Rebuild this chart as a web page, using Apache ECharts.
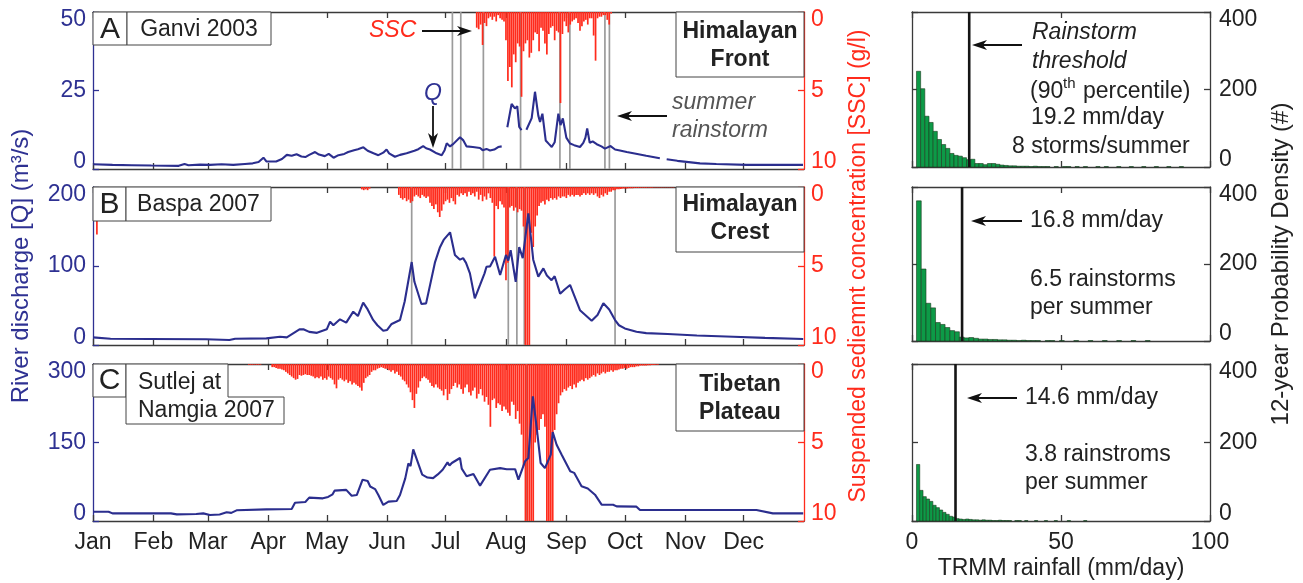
<!DOCTYPE html>
<html><head><meta charset="utf-8">
<script src="https://cdn.jsdelivr.net/npm/echarts@6/dist/echarts.min.js"></script>
<style>html,body{margin:0;padding:0;background:#fff}#c{width:1303px;height:583px}</style>
</head><body><div id="c"></div>
<script>
// ---------------- DATA ----------------
const months = ['Jan','Feb','Mar','Apr','May','Jun','Jul','Aug','Sep','Oct','Nov','Dec'];
const monthStartDays = [0,31,59,90,120,151,181,212,243,273,304,334];

// River discharge Q [day-of-year, m3/s]
const qA = [[0,1.5],[10,1.3],[20,1.2],[30,1.1],[44,1.0],[47,1.6],[49,1.2],[55,1.4],[60,1.3],[66,1.5],[72,1.3],[78,1.6],[82,1.8],[85,2.2],[87.5,3.6],[89,2.4],[94,2.4],[97,3.2],[99.5,4.5],[102,4.2],[104.5,4.7],[107,4.0],[109,3.8],[111,4.5],[114,5.4],[116,4.6],[119,4.1],[121,4.8],[123.5,3.6],[126,4.4],[129,4.8],[131,5.4],[134,6.0],[136,6.3],[138.8,6.9],[141,5.8],[144,5.0],[146.5,4.4],[149,5.2],[150.7,6.2],[152,5.0],[155,3.9],[157.6,4.5],[161,5.0],[163,5.4],[165,5.8],[167,6.3],[169.5,7.3],[171,6.6],[173,6.2],[176.4,5.0],[179,4.4],[180.5,6.0],[181.6,8.2],[183.3,7.2],[185,8.0],[188.4,10.1],[190,9.2],[191.8,7.2],[195,7.0],[198.7,6.7],[200,6.0],[202,6.4],[203.8,5.9],[206,6.2],[208,7.0],[209.8,7.2],[210.5,null],[212.7,13.3],[214.9,20.7],[216.6,19.3],[217.8,20.0],[218.8,13.4],[220,12.4],[220.7,null],[222.5,12.5],[223.4,11.9],[225.2,16.2],[226.9,24.6],[228.6,17.0],[229.5,15.0],[230.7,17.6],[232.4,9.1],[234,8.0],[235.5,7.0],[237,8.5],[238.9,17.6],[240,14.0],[241.2,16.1],[243,10.0],[244.9,8.1],[247,7.6],[250,7.0],[251.7,8.3],[252.8,10.0],[253.7,12.9],[255,8.3],[256.5,8.8],[258.6,7.9],[261,7.2],[262.8,6.5],[265.7,7.3],[268,6.2],[270.5,5.9],[274,5.4],[277.4,5.0],[284,4.2],[291,3.4],[292.5,null],[294.5,3.1],[300,2.6],[311.6,1.8],[320,1.6],[335.6,1.3],[350,1.3],[364.5,1.3]];
const qB = [[0,9.7],[9,8],[29,7.6],[58,7.2],[59,9],[70,6.3],[73,8],[89,8.4],[96,10.5],[99.5,9.7],[106,19.8],[108,20],[111,16.6],[115,15.4],[120,19.8],[121.7,29.5],[123.4,24.9],[126.8,32.5],[130,28.3],[133.6,42.2],[136,36.7],[138.7,53.6],[141,45],[143.8,31.7],[146,25],[149,18.1],[151,19],[153.3,26.6],[157.6,31.6],[160,55],[163.6,105],[165,80],[168.6,51.9],[171,52.7],[175.6,105],[178,123],[180,133],[183.3,142.6],[185.8,114],[188.4,108],[190,110],[191.5,104],[193.5,90.7],[196,59],[198.7,76],[201,90.7],[202,99],[203.8,99.5],[206.4,111.8],[209,88.6],[212,114],[213.2,107],[214.4,120],[217,80],[218.8,124],[220.6,110],[223.5,166.7],[226,108],[228.6,86.5],[231.2,97],[233,88],[235.4,82],[237,87],[239.8,65],[242,70],[244.9,76],[250,44],[256,30.8],[259,38],[262,52.8],[265,45],[268,31.6],[270,25],[273,21],[279,16.8],[284,15],[295,14],[310,12],[328.7,10.5],[345,9],[364.6,7.6]];
const qC = [[0,17.8],[8,17.8],[10,14.6],[40,14.6],[43,12.7],[53,13.5],[56.6,14.6],[60,11.5],[65,12.5],[68.6,16.6],[71,15.5],[73.7,20.4],[89,22.3],[102,22.9],[103.7,35],[109,36.3],[111,44.6],[118,43.3],[120.7,46],[123,51],[124,58],[130,59.5],[132.8,48.4],[135.4,49.6],[138.4,79],[141,76.4],[142.3,66],[144.8,61],[146.5,49.6],[149,30.6],[151.7,37],[155.9,38.2],[157.6,49.6],[160.3,81.5],[161.9,110],[163,105],[164.4,137],[169,88.5],[171.7,83],[174.6,82],[177,89],[179.5,98],[182,112],[183,106],[184.2,110.8],[188.4,120.4],[189.3,100],[191.8,85.4],[195.3,90],[198.7,67.5],[203.8,98],[209,101],[212.4,99],[216.7,99],[218.4,79],[221.8,114],[223.5,120.4],[225.8,238],[227.8,177.7],[229.8,110.8],[232,101],[235,126.7],[236,170],[238,145.8],[240.6,126.7],[245,95],[247,92],[250.8,66.3],[254,62],[257.7,50.3],[261.1,31.2],[267,31],[268.8,28],[279,27.4],[280.8,21],[340.6,21],[349,14.6],[364.6,14.6]];

// Suspended sediment concentration (g/l): first day + daily values
const sscAStart = 197;
const sscA = [1.0,1.1,0.8,2.1,0.7,0.9,0.4,0.3,0.5,0.3,0.6,0.2,0.4,0.5,0.6,1.8,4.4,3.5,4.8,2.7,3.2,2.0,2.2,5.4,2.5,2.0,1.8,2.9,2.6,1.8,1.3,1.4,2.5,1.0,1.2,2.0,2.7,1.4,1.0,0.9,1.8,1.2,1.3,5.8,1.4,0.6,0.9,1.3,0.8,0.6,0.5,0.4,0.7,1.2,0.9,0.6,0.5,0.8,0.4,0.4,1.5,3.1,0.4,0.3,0.3,0.2,0.2,0.5,0.8,0.1];
const sscBExtra = [[2,3.0],[138,0.15],[139,0.2],[140,0.15],[141,0.2],[142,0.1]];
const sscBStart = 157;
const sscB = [0.5,0.7,0.8,0.7,0.9,0.8,1.0,0.9,0.6,0.5,0.6,0.7,0.5,0.6,0.7,0.6,
  1.0,1.2,1.4,1.1,1.6,1.9,1.5,1.1,0.9,0.8,1.0,0.7,0.9,1.1,0.5,0.6,
  0.4,0.5,0.4,0.6,0.3,0.5,0.4,0.6,0.3,0.8,0.5,0.9,0.6,0.8,0.4,0.7,
  1.0,4.4,1.2,1.4,0.9,1.1,1.3,5.9,4.8,1.3,1.2,1.5,1.3,1.6,1.4,1.5,
  2.5,10,10,10,2.9,3.8,2.5,1.8,1.2,1.0,0.9,1.1,0.8,0.9,0.7,0.8,
  0.7,0.8,0.6,0.7,0.6,0.6,0.7,0.5,0.6,0.5,0.6,0.5,0.5,0.6,0.5,0.4,
  0.5,0.4,0.5,0.4,0.5,0.4,0.6,0.7,0.5,0.6,0.4,0.5,0.3,0.3,0.2,0.2,
  0.15,0.15,0.12,0.1,0.1,0.1,0.08,0.08,0.08,0.06,0.06,0.06,0.05,0.05,0.05,0.05,
  0.04,0.04,0.04,0.03,0.03,0.03,0.03,0.03,0.02,0.02,0.02,0.02,0.02,0.02];
const sscCExtra = [[80,0.05],[81,0.05],[82,0.05],[83,0.04],[84,0.05],[85,0.05],[86,0.04]];
const sscCStart = 92;
const sscC = [0.2,0.2,0.25,0.3,0.3,0.35,0.4,0.5,
  0.6,0.7,0.8,0.9,1.0,0.95,0.7,0.75,0.7,0.65,0.7,0.7,0.75,0.8,0.9,0.85,
  0.9,0.8,1.0,0.9,1.0,0.8,0.9,1.0,1.3,1.55,1.0,0.9,1.0,1.1,1.0,1.2,
  1.1,1.3,1.2,1.3,1.4,1.5,1.7,1.2,0.9,0.8,0.7,0.5,0.4,0.4,0.3,0.25,
  0.2,0.25,0.3,0.3,0.4,0.5,0.4,0.6,0.5,0.7,0.8,1.0,1.1,1.3,1.5,1.8,
  2.3,2.8,1.9,1.5,1.1,0.9,0.8,0.9,1.0,1.2,1.4,1.5,1.3,1.5,1.6,1.7,
  2.0,1.6,2.3,1.9,1.6,1.4,1.2,1.5,1.3,1.6,1.9,1.5,1.3,1.8,2.0,1.7,
  1.5,2.2,1.9,1.6,2.0,2.4,2.1,2.6,4.0,2.3,2.2,2.8,2.5,2.6,3.0,2.7,
  2.9,3.1,3.3,2.4,2.6,3.5,3.0,3.8,4.5,6.5,10,10,10,10,10,5.0,
  4.5,4.2,3.5,3.2,4.0,10,10,10,10,4.2,3.2,2.5,2.0,1.8,1.6,1.7,
  1.5,1.4,1.6,1.3,1.5,1.2,1.1,1.0,1.1,0.9,1.0,0.9,0.8,0.7,0.8,0.6,
  0.7,0.6,0.5,0.6,0.5,0.5,0.4,0.5,0.4,0.4,0.35,0.3,0.3,0.25,0.3,0.25,
  0.2,0.2,0.2,0.15,0.15,0.1,0.1,0.1,0.1,0.08,0.08,0.06,0.06,0.05,0.05];

// Summer rainstorm days (day of year)
const stormsA = [184.5,188.8,200.4,219.5,239.7,244.8,262.8,265.1];
const stormsB = [163.6,213.2,217.6,221.4,268];
const stormsC = [222.5];

// Axis maxima
const qMax = [50, 200, 300];

// TRMM rainfall histograms: first bin edge, bin width, counts
const histStart = [1.5, 1.5, 1.5];
const histWidth = [1.4, 1.6, 1.1];
const histA = [247,202,131,115,92,71,58,48,35,30,28,24,19,20,9,9,6,9,9,7,5,4,3,3,2,2,2,1,2,1,1,1,0,1,0,1,1,0,1,0,1,0,0,1,0,1,0,0,1,0,0,1,0,0,1,0,0,1,0,0,1,0,0,1,0,0,0,0,0,0];
const histB = [364,187,98,86,48,43,35,27,24,10,8,9,7,5,5,4,4,3,3,2,2,1,2,1,1,1,0,1,1,0,1,0,0,1,0,0,1,0,0,1,0,0,1,0,0,1,0,0,1,0,0,0,0,0,0,0,0,0,0,0,0];
const histC = [144,78,62,56,50,40,34,28,22,17,12,10,6,5,4,5,4,3,3,2,3,2,2,1,1,2,1,1,1,0,1,1,0,1,0,0,1,0,0,1,0,0,1,0,0,0,1,0,0,0,0,1,0,0,0,0,0,0,0,0,0,0,0,0,0,0,0,0,0,0,0,0,0,0,0,0,0,0,0,0,0,0,0,0,0,0,0,0];
const thresholds = [19.2, 16.8, 14.6];

// ---------------- STYLE ----------------
const FONT = '"Liberation Sans", Arial, Helvetica, sans-serif';
const BLUE = '#2e3192', QBLUE = '#2b2e8e', RED = '#ff2b1c', GRAY = '#9b9b9b', DARK = '#3a3a3a', TXT = '#222';
const GREEN = '#0d9a47';

function pairs(start, vals){ return vals.map((v,k)=>[start+k, v]); }
const qs = [qA, qB, qC];
const sscs = [pairs(sscAStart, sscA), sscBExtra.concat(pairs(sscBStart, sscB)), sscCExtra.concat(pairs(sscCStart, sscC))];
const storms = [stormsA, stormsB, stormsC];
const hists = [histA, histB, histC];

function edgeLabels(topVal, bottomVal, color){
  const base = {color: color, fontSize: 23, fontFamily: FONT};
  return {
    formatter: v => v === topVal ? '{t|'+v+'}' : (v === bottomVal ? '{b|'+v+'}' : '{m|'+v+'}'),
    rich: { t: Object.assign({padding:[16,0,0,0]}, base), b: Object.assign({padding:[0,0,14,0]}, base), m: Object.assign({}, base) }
  };
}

const grid = [
  {left:93, top:12, width:711, height:157},
  {left:93, top:187, width:711, height:158},
  {left:93, top:364, width:711, height:157},
  {left:912, top:12, width:298, height:155},
  {left:912, top:187, width:298, height:154},
  {left:912, top:364, width:298, height:157}
];

const xAxis = [], yAxis = [], series = [];
for (let i = 0; i < 3; i++) {
  ['bottom','top'].forEach(pos => {
    xAxis.push({type:'value', gridIndex:i, min:0, max:365, position:pos,
      axisLine:{show:true, onZero:false, lineStyle:{color:DARK, width:1.3}},
      axisTick:{show:true, inside:true, length:6, customValues:monthStartDays, lineStyle:{color:DARK, width:1.3}},
      axisLabel:{show: pos==='bottom' && i===2, customValues:monthStartDays, formatter: v => months[monthStartDays.indexOf(v)],
        fontSize:23, color:TXT, margin:10, fontFamily:FONT},
      splitLine:{show:false}});
  });
  const left = {type:'value', gridIndex:i, min:0, max:qMax[i], interval:qMax[i]/2, position:'left',
    axisLine:{show:true, onZero:false, lineStyle:{color:BLUE, width:1.3}},
    axisTick:{show:true, inside:true, length:6, lineStyle:{color:BLUE, width:1.3}},
    axisLabel:Object.assign({margin:7, color:BLUE, fontSize:23, fontFamily:FONT}, edgeLabels(qMax[i], 0, BLUE)),
    splitLine:{show:false}};
  const right = {type:'value', gridIndex:i, min:0, max:10, interval:5, inverse:true, position:'right',
    axisLine:{show:true, onZero:false, lineStyle:{color:RED, width:1.3}},
    axisTick:{show:true, inside:true, length:6, lineStyle:{color:RED, width:1.3}},
    axisLabel:Object.assign({margin:7, color:RED, fontSize:23, fontFamily:FONT}, edgeLabels(0, 10, RED)),
    splitLine:{show:false}};
  if (i === 1) {
    Object.assign(left, {name:'River discharge [Q] (m³/s)', nameLocation:'middle', nameGap:60, nameRotate:90,
      nameTextStyle:{color:BLUE, fontSize:24, fontFamily:FONT}});
    Object.assign(right, {name:'Suspended sediemnt concentration [SSC] (g/l)', nameLocation:'middle', nameGap:40, nameRotate:90,
      nameTextStyle:{color:RED, fontSize:23, fontFamily:FONT}});
  }
  yAxis.push(left, right);

  series.push({type:'custom', xAxisIndex:2*i, yAxisIndex:2*i+1, silent:true, z:1,
    data: storms[i].map(d => [d, 0]), encode:{x:0, y:1},
    renderItem: (p, api) => {
      const d = api.value(0); const a = api.coord([d, 0]); const b = api.coord([d, 10]);
      return {type:'line', shape:{x1:a[0], y1:a[1], x2:b[0], y2:b[1]}, style:{stroke:GRAY, lineWidth:1.7}};
    }});
  // daily SSC bars hanging from the top (inverted axis)
  series.push({type:'custom', xAxisIndex:2*i, yAxisIndex:2*i+1, silent:true, z:2,
    data: sscs[i], encode:{x:0, y:1},
    renderItem: (p, api) => {
      const d = api.value(0), v = Math.min(api.value(1), 10);
      const a = api.coord([d - 0.44, 0]), b = api.coord([d + 0.44, v]);
      return {type:'rect', shape:{x:a[0], y:a[1], width:b[0]-a[0], height:Math.max(b[1]-a[1], 0.4)},
        style:{fill:RED}};
    }});
  series.push({type:'line', xAxisIndex:2*i, yAxisIndex:2*i, silent:true, z:3,
    data: qs[i], showSymbol:false, symbol:'none', connectNulls:false,
    lineStyle:{color:QBLUE, width:2.1}});
}
for (let j = 0; j < 3; j++) {
  const g = 3 + j;
  ['bottom','top'].forEach(pos => {
    const ax = {type:'value', gridIndex:g, min:0, max:100, interval:50, position:pos,
      axisLine:{show:true, onZero:false, lineStyle:{color:DARK, width:1.3}},
      axisTick:{show:true, inside:true, length:6, lineStyle:{color:DARK, width:1.3}},
      axisLabel:{show: pos==='bottom' && j===2, fontSize:23, color:TXT, margin:10, fontFamily:FONT},
      splitLine:{show:false}};
    if (pos==='bottom' && j===2) Object.assign(ax, {name:'TRMM rainfall (mm/day)', nameLocation:'middle', nameGap:36,
      nameTextStyle:{color:TXT, fontSize:23, fontFamily:FONT}});
    xAxis.push(ax);
  });
  const yr = {type:'value', gridIndex:g, min:0, max:400, interval:200, position:'right',
    axisLine:{show:true, onZero:false, lineStyle:{color:DARK, width:1.3}},
    axisTick:{show:true, inside:true, length:6, lineStyle:{color:DARK, width:1.3}},
    axisLabel:Object.assign({margin:9, color:TXT, fontSize:23, fontFamily:FONT}, edgeLabels(400, 0, TXT)),
    splitLine:{show:false}};
  if (j === 1) Object.assign(yr, {name:'12-year Probability Density (#)', nameLocation:'middle', nameGap:59, nameRotate:90,
    nameTextStyle:{color:TXT, fontSize:24, fontFamily:FONT}});
  const yl = {type:'value', gridIndex:g, min:0, max:400, interval:200, position:'left',
    axisLine:{show:true, onZero:false, lineStyle:{color:DARK, width:1.3}},
    axisTick:{show:true, inside:true, length:6, lineStyle:{color:DARK, width:1.3}},
    axisLabel:{show:false}, splitLine:{show:false}};
  yAxis.push(yr, yl);

  const s = histStart[j], w = histWidth[j];
  series.push({type:'custom', xAxisIndex:6+2*j, yAxisIndex:6+2*j, silent:true, z:2,
    data: hists[j].map((c, k) => [s + k*w, s + (k+1)*w, c]), encode:{x:[0,1], y:2},
    renderItem: (p, api) => {
      const x0 = api.value(0), x1 = api.value(1), c = api.value(2);
      if (!c) return {type:'group', children:[]};
      const p0 = api.coord([x0, c]), p1 = api.coord([x1, 0]);
      return {type:'rect', shape:{x:p0[0], y:p0[1], width:p1[0]-p0[0], height:p1[1]-p0[1]},
        style:{fill:GREEN, stroke:'#1b3a1f', lineWidth:0.6}};
    }});
  series.push({type:'line', xAxisIndex:6+2*j, yAxisIndex:6+2*j, silent:true, z:4,
    data:[[thresholds[j], 0], [thresholds[j], 400]], symbol:'none', showSymbol:false,
    lineStyle:{color:'#151515', width:2.6}});
}

// ---------------- ANNOTATIONS ----------------
const graphic = [];
function txt(s, x, y, font, fill, align){
  graphic.push({type:'text', x:x, y:y, z:110, silent:true,
    style:{text:s, font:font, fill:fill||TXT, textAlign:align||'left', align:align||'left', textVerticalAlign:'middle', verticalAlign:'middle'}});
}
function box(x, y, w, h){
  graphic.push({type:'rect', z:105, silent:true, shape:{x:x, y:y, width:w, height:h}, style:{fill:'#fff', stroke:'#444', lineWidth:1}});
}
function arrow(x1, y1, x2, y2){
  const ang = Math.atan2(y2-y1, x2-x1), L = 15, W = 5;
  const c = Math.cos(ang), s = Math.sin(ang);
  const bx = x2 - L*c, by = y2 - L*s, nx = -s, ny = c;
  const mx = x2 - 0.72*L*c, my = y2 - 0.72*L*s;
  graphic.push({type:'line', z:110, silent:true, shape:{x1:x1, y1:y1, x2:mx, y2:my}, style:{stroke:'#111', lineWidth:1.8}});
  graphic.push({type:'polygon', z:110, silent:true, shape:{points:[[x2,y2],[bx+nx*W,by+ny*W],[mx,my],[bx-nx*W,by-ny*W]]}, style:{fill:'#111'}});
}
const F = s => s + 'px ' + FONT;
// Panel letters and site boxes
box(93,12,34,33); txt('A',110,29.5,F(30),TXT,'center');
box(127,12,144,33); txt('Ganvi 2003',199,29.5,F(23),TXT,'center');
box(93,187,33,34); txt('B',109.5,204.5,F(30),TXT,'center');
box(126,187,145,34); txt('Baspa 2007',198.5,204.5,F(23),TXT,'center');
box(93,364,33,33); txt('C',109.5,381,F(30),TXT,'center');
graphic.push({type:'polygon', z:105, silent:true, shape:{points:[[126,364],[228,364],[228,397],[284,397],[284,424],[126,424]]}, style:{fill:'#fff', stroke:'#444', lineWidth:1}});
txt('Sutlej at',138,383,F(23)); txt('Namgia 2007',138,411,F(23));
// Region boxes
box(676,12,128,65); txt('Himalayan',740,31.5,'bold '+F(23),TXT,'center'); txt('Front',740,59.5,'bold '+F(23),TXT,'center');
box(676,187,128,65); txt('Himalayan',740,205,'bold '+F(23),TXT,'center'); txt('Crest',740,233,'bold '+F(23),TXT,'center');
box(676,364,128,67); txt('Tibetan',740,384.5,'bold '+F(23),TXT,'center'); txt('Plateau',740,413,'bold '+F(23),TXT,'center');
// Panel A annotations
txt('SSC',369,31,'italic '+F(23),RED); arrow(422,31,472,31);
txt('Q',433,94,'italic '+F(23),BLUE,'center'); arrow(433,106,433,148);
txt('summer',672,103,'italic '+F(23),'#555'); txt('rainstorm',672,131,'italic '+F(23),'#555'); arrow(667,116,617,116);
// Histogram annotations
arrow(1022,45,972,45);
txt('Rainstorm',1032,33,'italic '+F(23)); txt('threshold',1032,62,'italic '+F(23));
txt('(90',1030,92,F(23)); txt('th',1063,84,F(15)); txt('percentile)',1083,92,F(23));
txt('19.2 mm/day',1031,118,F(23)); txt('8 storms/summer',1012,147,F(23));
arrow(1022,221,971,221); txt('16.8 mm/day',1030,221,F(23));
txt('6.5 rainstorms',1030,280,F(23)); txt('per summer',1030,308,F(23));
arrow(1017,398,967,398); txt('14.6 mm/day',1025,398,F(23));
txt('3.8 rainstroms',1025,455,F(23)); txt('per summer',1025,483,F(23));

const chart = echarts.init(document.getElementById('c'), null, {renderer:'canvas'});
chart.setOption({
  animation:false,
  backgroundColor:'#fff',
  textStyle:{fontFamily:FONT},
  grid: grid, xAxis: xAxis, yAxis: yAxis, series: series, graphic: graphic
});
</script>
</body></html>
